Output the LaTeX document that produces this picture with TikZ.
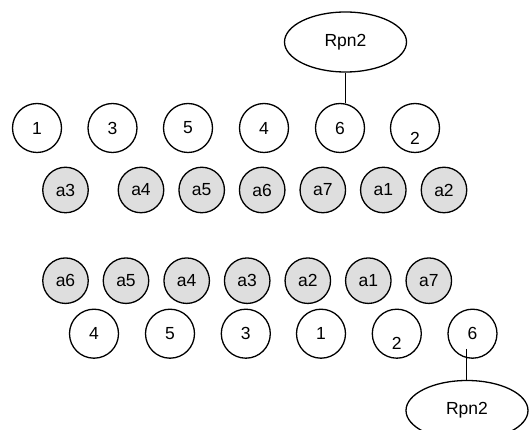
\documentclass[tikz,border=0pt]{standalone}
\usepackage{fontspec}
\setmainfont{Liberation Sans}
\usetikzlibrary{shapes.geometric}
\begin{document}
\begin{tikzpicture}[x=1pt,y=-1pt,
  every node/.style={font=\fontsize{17.5}{20}\selectfont},
  plain/.style={circle,draw,line width=1.3pt,inner sep=0pt,minimum size=49pt},
  shaded/.style={circle,draw,line width=1.3pt,fill=black!13,inner sep=0pt,minimum size=45.5pt},
  tag/.style={ellipse,draw,line width=1.3pt,inner sep=0pt,minimum width=122pt,minimum height=60pt},
  low/.style={label={[shift={(0,-10pt)},font=\fontsize{17.5}{20}\selectfont]center:#1}},
  link/.style={line width=1.3pt}]
\useasboundingbox (0,0) rectangle (531,430);
\clip (0,0) rectangle (531,430);

% upper arrangement
\node[tag] (ra) at (345.5,42) {Rpn2};
\node[plain] (t1) at (37,128) {1};
\node[plain] (t3) at (112.5,128) {3};
\node[plain] (t5) at (188,128) {5};
\node[plain] (t4) at (264,128) {4};
\node[plain] (t6) at (340,128) {6};
\node[plain,low=2] (t2) at (415,128) {};
\draw[link] (ra.south) -- (ra.south |- t6.north);

\node[shaded] (ua3) at (65.5,190) {a3};
\node[shaded] (ua4) at (141,190) {a4};
\node[shaded] (ua5) at (201.7,190) {a5};
\node[shaded] (ua6) at (262.2,190) {a6};
\node[shaded] (ua7) at (322.8,190) {a7};
\node[shaded] (ua1) at (383.3,190) {a1};
\node[shaded] (ua2) at (444,190) {a2};

% lower arrangement
\node[shaded] (la6) at (65.5,280.7) {a6};
\node[shaded] (la5) at (126,280.7) {a5};
\node[shaded] (la4) at (186.7,280.7) {a4};
\node[shaded] (la3) at (247.2,280.7) {a3};
\node[shaded] (la2) at (307.8,280.7) {a2};
\node[shaded] (la1) at (368.3,280.7) {a1};
\node[shaded] (la7) at (428.8,280.7) {a7};

\node[plain] (b4) at (94,333.7) {4};
\node[plain] (b5) at (170,333.7) {5};
\node[plain] (b3) at (245.8,333.7) {3};
\node[plain] (b1) at (321,333.7) {1};
\node[plain,low=2] (b2) at (396.8,333.7) {};
\node[plain] (b6) at (472.5,333.7) {6};
\node[tag] (rb) at (467,410.5) {Rpn2};
\coordinate (tail) at (466.7,349);
\draw[link] (tail) -- (tail |- rb.north);
\end{tikzpicture}
\end{document}
